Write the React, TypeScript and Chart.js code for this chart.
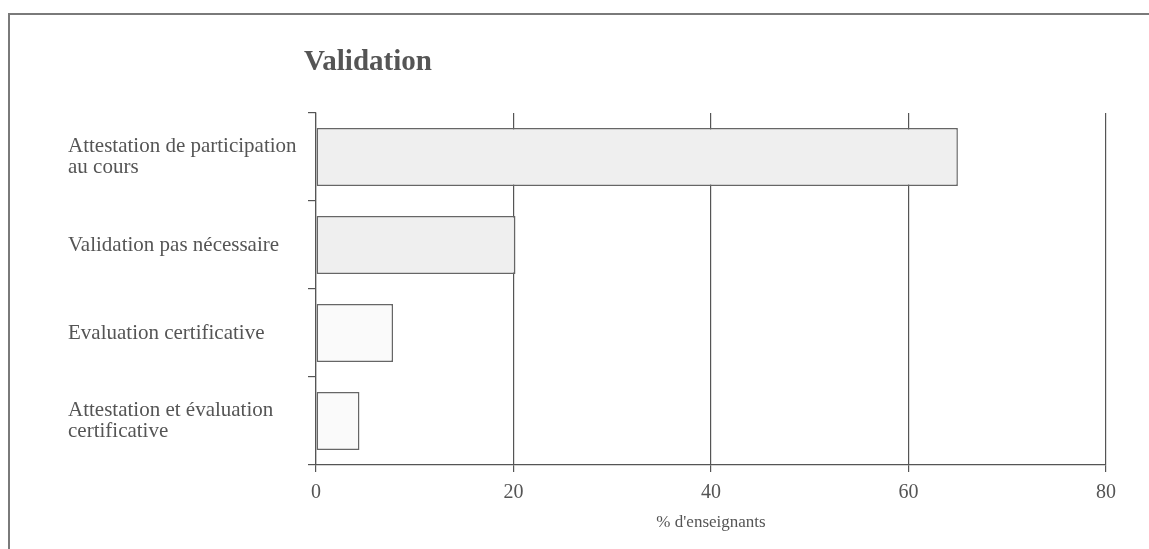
import React, { useEffect, useRef } from "react";
import { Chart, registerables } from "chart.js";

Chart.register(...registerables);

const chartTitle = "Validation";
const categories: string[][] = [
  ["Attestation de participation", "au cours"],
  ["Validation pas nécessaire"],
  ["Evaluation certificative"],
  ["Attestation et évaluation", "certificative"],
];
const values: number[] = [65, 20.2, 7.8, 4.4];
const xTicks: number[] = [0, 20, 40, 60, 80];
const xAxisTitle = "% d'enseignants";

const barFills = ["#efefef", "#efefef", "#fafafa", "#fafafa"];
const SERIF = "'Liberation Serif', 'Times New Roman', serif";
const INK = "#555555";
const LINE = "#555555";

const titlePlugin = {
  id: "leftTitle",
  afterDraw(chart: any) {
    const { ctx, chartArea } = chart;
    ctx.save();
    ctx.font = `bold 29px ${SERIF}`;
    ctx.fillStyle = INK;
    ctx.textAlign = "left";
    ctx.textBaseline = "alphabetic";
    ctx.fillText(chartTitle, chartArea.left - 12, 70);
    ctx.restore();
  },
};

export default function App() {
  const canvasRef = useRef<HTMLCanvasElement | null>(null);

  useEffect(() => {
    if (!canvasRef.current) return;
    const chart = new Chart(canvasRef.current, {
      type: "bar",
      data: {
        labels: categories,
        datasets: [
          {
            data: values,
            backgroundColor: barFills,
            borderColor: "#666666",
            borderWidth: 1.5,
            borderSkipped: false,
            barPercentage: 0.66,
            categoryPercentage: 1,
          },
        ],
      },
      options: {
        indexAxis: "y",
        animation: false,
        responsive: true,
        maintainAspectRatio: false,
        layout: { padding: { left: 68, top: 113, right: 43, bottom: 0 } },
        plugins: {
          legend: { display: false },
          title: { display: false },
          tooltip: { enabled: false },
        },
        scales: {
          x: {
            type: "linear",
            min: 0,
            max: 80,
            afterBuildTicks: (scale: any) => {
              scale.ticks = xTicks.map((v) => ({ value: v }));
            },
            afterFit: (scale: any) => {
              scale.height = 84;
            },
            grid: {
              color: LINE,
              lineWidth: 1.2,
              drawTicks: true,
              tickLength: 7,
              tickColor: LINE,
            },
            border: { display: true, color: LINE, width: 1.2 },
            ticks: {
              color: INK,
              padding: 9,
              font: { family: SERIF, size: 20 },
              maxRotation: 0,
            },
            title: {
              display: true,
              text: xAxisTitle,
              color: INK,
              font: { family: SERIF, size: 17 },
              padding: { top: 0, bottom: 16 },
            },
          },
          y: {
            type: "category",
            afterFit: (scale: any) => {
              scale.width = 248;
            },
            grid: {
              offset: true,
              drawOnChartArea: false,
              drawTicks: true,
              tickLength: 8,
              color: LINE,
              lineWidth: 1.2,
            },
            border: { display: true, color: LINE, width: 1.2 },
            ticks: {
              color: INK,
              crossAlign: "far",
              font: { family: SERIF, size: 21, lineHeight: 1.02 },
            },
          },
        },
      },
      plugins: [titlePlugin],
    } as any);
    return () => chart.destroy();
  }, []);

  return (
    <div
      style={{
        position: "fixed",
        left: 0,
        top: 0,
        width: "1149px",
        height: "549px",
        background: "#ffffff",
      }}
    >
      <div
        style={{
          position: "absolute",
          left: "8px",
          top: "13px",
          right: "0px",
          bottom: "-20px",
          borderTop: "2px solid #7a7a7a",
          borderLeft: "2px solid #7a7a7a",
          pointerEvents: "none",
        }}
      />
      <canvas ref={canvasRef} style={{ position: "absolute", left: 0, top: 0 }} />
    </div>
  );
}
